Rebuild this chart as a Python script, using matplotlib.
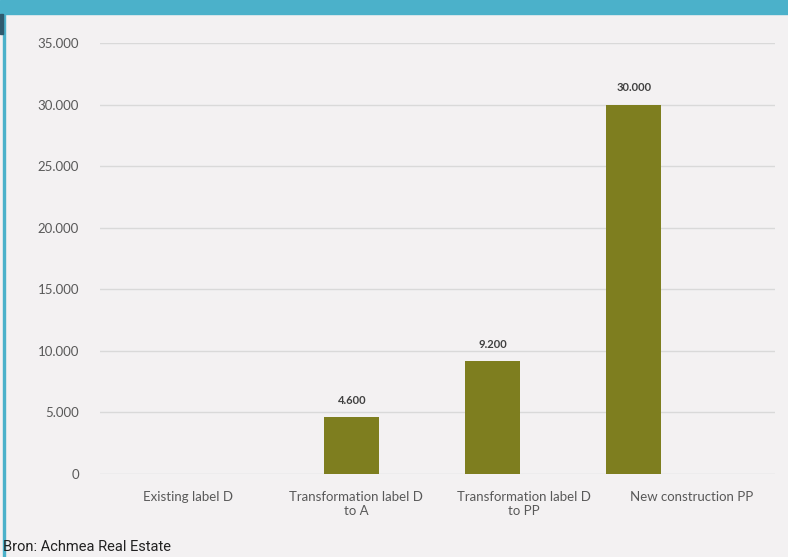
import matplotlib
matplotlib.use("Agg")
import matplotlib.pyplot as plt
from matplotlib.patches import Rectangle
from matplotlib.ticker import FuncFormatter
import numpy as np

categories = ["Existing label D", "Transformation label D\nto A",
              "Transformation label D\nto PP", "New construction PP"]
values = [0, 4600, 9200, 30000]
yticks = [0, 5000, 10000, 15000, 20000, 25000, 30000, 35000]
source = "Bron: Achmea Real Estate"

def fmt(v):
    return f"{int(v):,}".replace(",", ".")

BG = "#F3F1F2"
TEAL = "#4BB1CA"
BAR = "#7E7E1F"
TXT = "#595959"

plt.rcParams['font.family'] = ['Lato', 'DejaVu Sans']

fig = plt.figure(figsize=(7.88, 5.57), dpi=100, facecolor=BG)
# decorations
fig.patches.append(Rectangle((0, 1 - 14/557), 1, 14/557, transform=fig.transFigure,
                             color=TEAL, zorder=0))
fig.patches.append(Rectangle((3/788, 0), 1.5/788, 1 - 14/557, transform=fig.transFigure,
                             color=TEAL, zorder=0))
fig.patches.append(Rectangle((0, 1 - 34/557), 3/788, 20/557, transform=fig.transFigure,
                             color="#2F5B6F", zorder=0))

ax = fig.add_axes([100/788, 1 - 474/557, 675/788, (474 - 43)/557])
ax.set_facecolor(BG)
x = np.arange(len(categories))
ax.bar(x, values, width=0.39, color=BAR, zorder=3)
for xi, v in zip(x, values):
    if v > 0:
        ax.text(xi, v + 900, fmt(v), ha="center", va="bottom", fontsize=8,
                fontweight="bold", color="#404040")

ax.set_ylim(0, 35000)
ax.set_xlim(-0.787, 4.0)
ax.set_yticks(yticks)
ax.yaxis.set_major_formatter(FuncFormatter(lambda v, p: fmt(v)))
# category labels are spread evenly across the plot width (as in the source)
label_pos = x * 1.19 - 0.16
ax.set_xticks(label_pos)
ax.set_xticklabels(categories)
ax.grid(axis="y", color="#D9D9D9", linewidth=1, zorder=0)
for s in ax.spines.values():
    s.set_visible(False)
ax.tick_params(axis="both", length=0, colors=TXT, labelsize=9.5)
ax.tick_params(axis="y", pad=15)
ax.tick_params(axis="x", pad=12)

fig.text(3/788, 1 - 547/557, source, ha="left", va="center", fontsize=10.5,
         color="#222222", family=["Roboto", "DejaVu Sans"])

fig.savefig("out.png", dpi=100, facecolor=BG)
